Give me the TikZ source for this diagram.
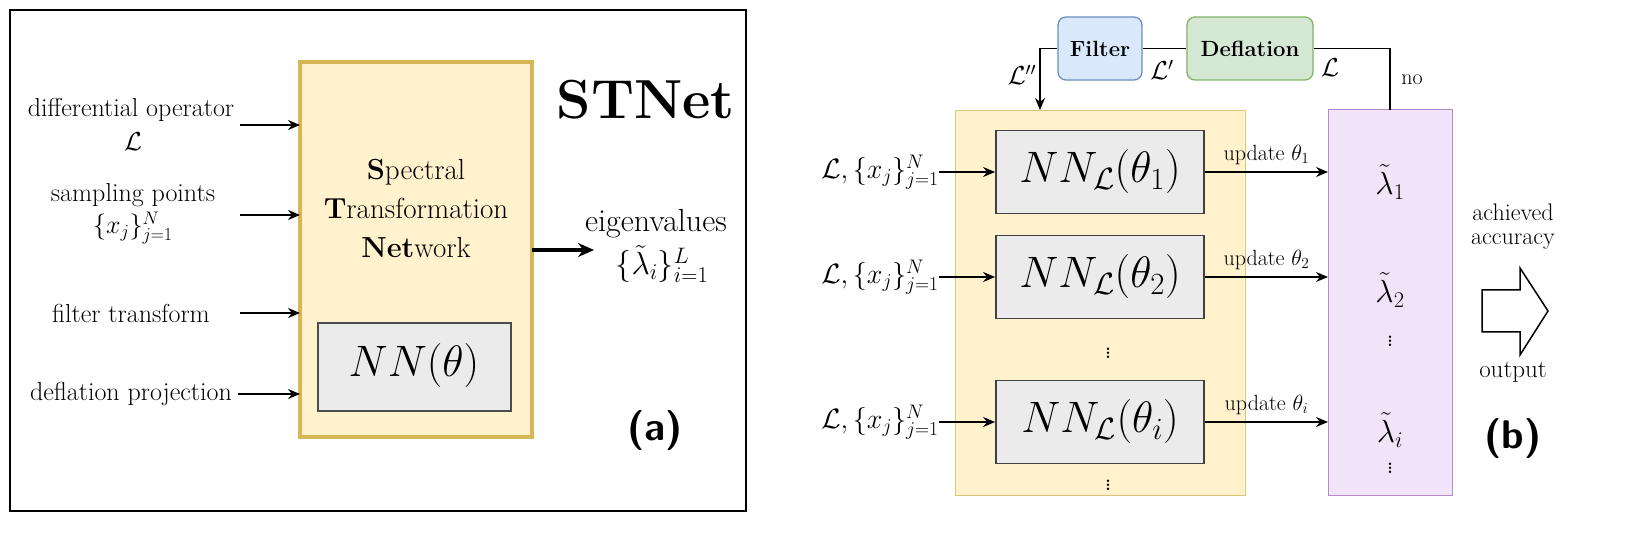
\RequirePackage{fix-cm}
\documentclass[tikz,border=0pt]{standalone}
\usepackage{amsmath}
\usetikzlibrary{arrows.meta}
\definecolor{yel}{HTML}{FFF2CC}\definecolor{gold}{HTML}{D6B656}
\definecolor{gr}{HTML}{EBEBEB}\definecolor{blu}{HTML}{DAE8FC}\definecolor{bluD}{HTML}{6C8EBF}
\definecolor{grn}{HTML}{D5E8D4}\definecolor{grnD}{HTML}{82B366}\definecolor{pur}{HTML}{F1E4F8}\definecolor{purD}{HTML}{B48ACC}
\newcommand{\fs}[1]{\fontsize{#1}{#1}\selectfont}
\tikzset{arr/.style={-{Stealth[length=12pt,width=10pt]},line width=1.5pt},
 txt/.style={font=\fs{26}, inner sep=0},
 nn/.style={draw=black!75,fill=gr,line width=1.8pt}}
\begin{document}
\begin{tikzpicture}[x=1pt,y=-1pt]
\useasboundingbox (0,0) rectangle (1626,537);
% panel a
\draw[line width=1.3pt] (10,10) rectangle (746,511);
\draw[fill=yel,draw=gold,line width=4pt] (300,62) rectangle (532,437);
\node[txt,align=center,font=\fs{29}] at (416,208) {\textbf{S}pectral\\[10pt]\textbf{T}ransformation\\[10pt]\textbf{Net}work};
\draw[fill=gr,draw=black!70,line width=1.3pt] (318,323) rectangle (511,411);
\node[txt,font=\fs{44}] at (414,366) {$NN(\theta)$};
\node[txt,font=\fs{55}\bfseries] at (646,100) {STNet};
\node[txt,font=\fs{40}\bfseries\sffamily] at (655,430) {(a)};
\node[txt] at (131,110) {differential operator};
\node[txt] at (133,142) {$\mathcal{L}$};
\node[txt] at (133,195) {sampling points};
\node[txt] at (133,228) {$\{x_j\}_{j=1}^N$};
\node[txt] at (131,313) {filter transform};
\node[txt] at (131,394) {deflation projection};
\coordinate (a1) at (240,125); \coordinate (b1) at (300,125);
\coordinate (a2) at (240,215); \coordinate (b2) at (300,215);
\coordinate (a3) at (240,313); \coordinate (b3) at (300,313);
\coordinate (a4) at (238,394); \coordinate (b4) at (300,394);
\foreach \i in {1,...,4} \draw[arr] (a\i) -- (b\i);
\coordinate (o1) at (532,250); \coordinate (o2) at (594,250);
\draw[-{Stealth[length=16pt,width=14pt]},line width=3.5pt] (o1) -- (o2);
\node[txt,font=\fs{32}] at (656,224) {eigenvalues};
\node[txt,font=\fs{32}] at (662,264) {$\{\tilde\lambda_i\}_{i=1}^L$};
% panel b
\draw[fill=yel,draw=gold!80] (955,110) rectangle (1245,495);
\draw[fill=pur,draw=purD,line width=1pt] (1328,110) rectangle (1452,495);
\node[draw=bluD,fill=blu,rounded corners=8pt,line width=1.3pt,minimum width=84pt,minimum height=63pt,font=\fs{22}\bfseries] (F) at (1100,48.5) {Filter};
\node[draw=grnD,fill=grn,rounded corners=8pt,line width=1.3pt,minimum width=126pt,minimum height=63pt,font=\fs{22}\bfseries] (D) at (1250,48.5) {Deflation};
\coordinate (c1) at (1040,48.5); \coordinate (c2) at (1040,110);
\coordinate (c3) at (1390,48.5); \coordinate (c4) at (1390,110);
\draw[line width=1.5pt] (F) -- (D);
\draw[arr] (F.west) -- (c1) -- (c2);
\draw[line width=1.5pt] (D.east) -- (c3) -- (c4);
\node[txt] at (1022,75) {$\mathcal{L}''$};
\node[txt] at (1162,70) {$\mathcal{L}'$};
\node[txt] at (1330,68) {$\mathcal{L}$};
\node[txt,font=\fs{22}] at (1412,80) {no};
\foreach \n/\y/\s in {1/172/1,2/277/2,3/422/i}{
  \node[nn,minimum width=208pt,minimum height=83pt,font=\fs{44}] (N\n) at (1100,\y) {$NN_{\mathcal{L}}(\theta_\s)$};
  \node[txt,font=\fs{28}] (I\n) at (880,\y) {$\mathcal{L},\{x_j\}_{j=1}^N$};
  \coordinate (P\n) at (1328,\y);
  \draw[arr] (I\n.east) -- (N\n);
  \draw[arr] (N\n) -- (P\n) node[pos=0.5,above=3pt,font=\fs{22}] {update $\theta_\s$};
}
\node[font=\fs{32}] at (1390,182) {$\tilde\lambda_1$};
\node[font=\fs{32}] at (1390,290) {$\tilde\lambda_2$};
\node[font=\fs{32}] at (1390,430) {$\tilde\lambda_i$};
\node[font=\fs{30}] at (1390,338) {$\vdots$};
\node[font=\fs{30}] at (1390,465) {$\vdots$};
\node[font=\fs{30}] at (1108,350) {$\vdots$};
\node[font=\fs{30}] at (1108,482) {$\vdots$};
\draw[line width=1.5pt,fill=white] (1482,290) -- (1520,290) -- (1520,268) -- (1548,311) -- (1520,355) -- (1520,332) -- (1482,332) -- cycle;
\node[txt,font=\fs{24}] at (1513,212) {achieved};
\node[txt,font=\fs{24}] at (1513,242) {accuracy};
\node[txt,font=\fs{25}] at (1513,372) {output};
\node[txt,font=\fs{40}\bfseries\sffamily] at (1513,438) {(b)};
\end{tikzpicture}
\end{document}
